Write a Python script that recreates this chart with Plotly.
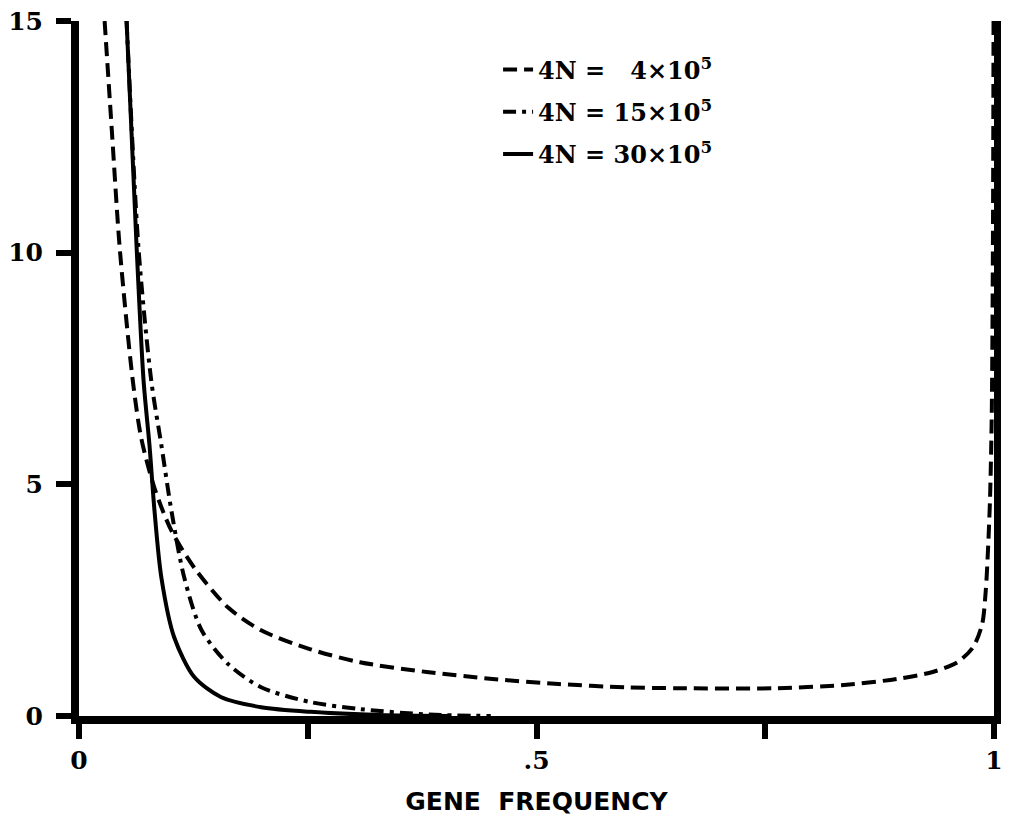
import plotly.graph_objects as go

# Gene frequency (x) and density values (y)
x_4 = [0.028, 0.036, 0.0445, 0.0586, 0.068, 0.0825, 0.101, 0.126, 0.163, 0.199,
       0.253, 0.307, 0.380, 0.452, 0.524, 0.597, 0.655, 0.763, 0.836, 0.894,
       0.933, 0.960, 0.977, 0.987, 0.991, 0.9934, 0.9956, 0.9975, 0.9988, 0.9995]
y_4 = [15.0, 12.6, 10.1, 7.27, 6.0, 4.92, 4.0, 3.2, 2.34, 1.85,
       1.44, 1.16, 0.95, 0.80, 0.69, 0.62, 0.60, 0.60, 0.67, 0.80,
       0.95, 1.16, 1.48, 1.98, 2.71, 3.57, 4.65, 6.43, 10.1, 15.0]

x_15 = [0.052, 0.065, 0.079, 0.090, 0.101, 0.115, 0.134, 0.163, 0.199, 0.253,
        0.307, 0.383, 0.45]
y_15 = [15.0, 10.1, 7.23, 5.85, 4.43, 2.99, 1.85, 1.12, 0.62, 0.30,
        0.15, 0.03, 0.0]

x_30 = [0.052, 0.063, 0.0706, 0.077, 0.0825, 0.090, 0.104, 0.126, 0.155, 0.199,
        0.253, 0.329, 0.405]
y_30 = [15.0, 10.1, 7.23, 5.85, 4.43, 2.99, 1.70, 0.84, 0.41, 0.19,
        0.09, 0.02, 0.0]

names = ["4N =\u2007\u00a04×10<sup>5</sup>",
         "4N = 15×10<sup>5</sup>",
         "4N = 30×10<sup>5</sup>"]
dashes = ["14px,7px", "13px,6px,4px,6px", "solid"]

x_tickvals = [0, 0.5, 1]
x_ticktext = ["0", ".5", "1"]
x_minorvals = [0.25, 0.75]
y_tickvals = [0, 5, 10, 15]
y_ticktext = ["0", "5", "10", "15"]

fig = go.Figure()
for i, (xs, ys) in enumerate([(x_4, y_4), (x_15, y_15), (x_30, y_30)]):
    fig.add_trace(go.Scatter(
        x=xs, y=ys, mode="lines", name=names[i], legendgroup=str(i),
        line=dict(color="black", width=4, dash=dashes[i], shape="spline", smoothing=0.8),
    ))

serif = dict(family="DejaVu Serif", size=25, color="black", weight="bold")

# page body has an 8px margin, so the figure is offset by 8px
fig.update_layout(
    width=1001, height=808,
    paper_bgcolor="white", plot_bgcolor="white",
    margin=dict(l=71, r=15, t=13, b=100),
    showlegend=True,
    legend=dict(x=0.458, y=0.962, xanchor="left", yanchor="top",
                font=dict(family="DejaVu Serif", size=24, color="black", weight="bold"),
                bgcolor="rgba(0,0,0,0)", tracegroupgap=8),
    xaxis=dict(range=[0, 1], tickvals=x_tickvals, ticktext=x_ticktext,
               automargin=False, ticklabeloverflow="allow",
               showgrid=False, zeroline=False, showline=True, linewidth=8,
               linecolor="black", ticks="outside", ticklen=15, tickwidth=6,
               tickcolor="black", tickfont=serif,
               minor=dict(tickvals=x_minorvals, ticks="outside", ticklen=15,
                          tickwidth=6, tickcolor="black", showgrid=False),
               title=dict(text="GENE  FREQUENCY", standoff=30,
                          font=dict(family="DejaVu Sans", size=25, color="black",
                                    weight="bold"))),
    yaxis=dict(range=[0, 15], tickvals=y_tickvals, ticktext=y_ticktext,
               automargin=False, ticklabelstandoff=8, ticklabeloverflow="allow",
               showgrid=False, zeroline=False, showline=True, linewidth=8,
               linecolor="black", mirror=True, ticks="outside", ticklen=15,
               tickwidth=6, tickcolor="black", tickfont=serif),
)

fig.write_html("out.html")
